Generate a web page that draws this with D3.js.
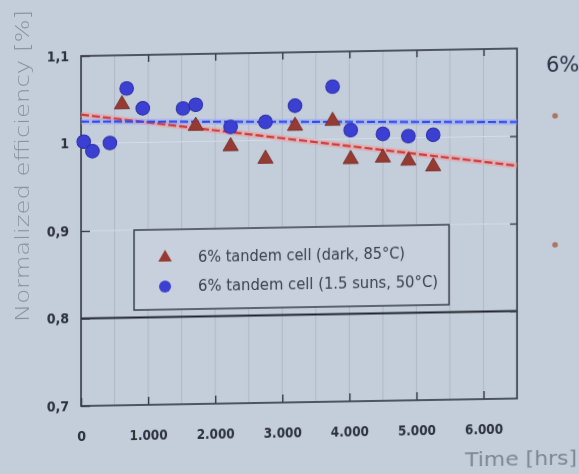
<!DOCTYPE html>
<html>
<head>
<meta charset="utf-8">
<script src="https://cdn.jsdelivr.net/npm/d3@7"></script>
<style>
  html, body { margin: 0; padding: 0; background: #c4cdda; }
  svg { display: block; }
</style>
</head>
<body>
<div id="vis"></div>
<script>
const TIEMPO_SOL = [40, 170, 430, 680, 920, 1520, 1710, 2230, 2750, 3190, 3750, 4020, 4500, 4880, 5250];
const EFIC_SOL = [1.002, 0.991, 1.000, 1.062, 1.039, 1.038, 1.042, 1.016, 1.021, 1.039, 1.060, 1.010, 1.005, 1.002, 1.003];

const TIEMPO_OSCURO = [610, 1710, 2230, 2750, 3190, 3750, 4020, 4500, 4880, 5250];
const EFIC_OSCURO = [1.045, 1.019, 0.995, 0.980, 1.017, 1.022, 0.978, 0.979, 0.975, 0.968];

// rectas de ajuste (extremos)
const TIEMPO_AJUSTE = [0, 6500];
const AJUSTE_SOL = [1.025, 1.016];
const AJUSTE_OSCURO = [1.033, 0.966];

const LIMITE = [0.8];

const TICKS_X = [0, 1000, 2000, 3000, 4000, 5000, 6000];
const TICKS_Y = [0.7, 0.8, 0.9, 1.0, 1.1];
const GRILLA_X = [500, 1000, 1500, 2000, 2500, 3000, 3500, 4000, 4500, 5000, 5500, 6000];

const LEYENDA = ["6% tandem cell (dark, 85°C)", "6% tandem cell (1.5 suns, 50°C)"];

const WIDTH = 579;
const HEIGHT = 474;
const FUENTE_NARROW = "'Liberation Sans Narrow', 'DejaVu Sans Condensed', 'Liberation Sans', sans-serif";

const SVG = d3.select("#vis").append("svg")
    .attr("width", WIDTH)
    .attr("height", HEIGHT);

SVG.append("rect").attr("width", WIDTH).attr("height", HEIGHT).attr("fill", "#c4cdda");

const defs = SVG.append("defs");
defs.append("filter").attr("id", "borroso")
    .attr("x", "-5%").attr("y", "-5%").attr("width", "110%").attr("height", "110%")
    .append("feGaussianBlur").attr("stdDeviation", 0.55);

// la foto esta tomada un poco chueca: el lado derecho queda mas arriba
const K = 0.0172;
const g = SVG.append("g")
    .attr("transform", `matrix(1,${-K},0,1,0,${K * 81})`)
    .attr("filter", "url(#borroso)");

const escalaX = d3.scaleLinear().domain([0, 6500]).range([81, 517]);
const escalaY = d3.scaleLinear().domain([0.7, 1.1]).range([406, 56]);

// grilla vertical
g.append("g").selectAll("line")
    .data(GRILLA_X)
    .join("line")
    .attr("x1", d => escalaX(d)).attr("x2", d => escalaX(d))
    .attr("y1", escalaY(1.1)).attr("y2", escalaY(0.7))
    .attr("stroke", "#aeb7c6")
    .attr("stroke-width", 0.9);

// grilla horizontal suave
g.append("g").selectAll("line")
    .data([0.9, 1.0])
    .join("line")
    .attr("x1", escalaX(0)).attr("x2", escalaX(6500))
    .attr("y1", d => escalaY(d)).attr("y2", d => escalaY(d))
    .attr("stroke", "#d3dbe6")
    .attr("stroke-width", 1);

// linea del 80%
g.append("g").selectAll("line")
    .data(LIMITE)
    .join("line")
    .attr("x1", escalaX(0)).attr("x2", escalaX(6500))
    .attr("y1", d => escalaY(d)).attr("y2", d => escalaY(d))
    .attr("stroke", "#1f252e")
    .attr("stroke-width", 2.2);

// ejes
const formatoX = d => d3.format(",")(d).replace(/,/g, ".");
const formatoY = d => d === 1 ? "1" : d3.format(".1f")(d).replace(".", ",");

const ejeX = g.append("g")
    .attr("transform", `translate(0,${escalaY(0.7)})`)
    .call(d3.axisBottom(escalaX).tickValues(TICKS_X).tickSize(-8).tickPadding(25).tickFormat(formatoX));
const ejeY = g.append("g")
    .attr("transform", `translate(${escalaX(0)},0)`)
    .call(d3.axisLeft(escalaY).tickValues(TICKS_Y).tickSize(-9).tickPadding(12).tickFormat(formatoY));
g.append("g")
    .attr("transform", `translate(0,${escalaY(1.1)})`)
    .call(d3.axisTop(escalaX).tickValues(TICKS_X.slice(1)).tickSize(-7).tickFormat(""));
g.append("g")
    .attr("transform", `translate(${escalaX(6500)},0)`)
    .call(d3.axisRight(escalaY).tickValues(TICKS_Y.slice(1, 4)).tickSize(-7).tickFormat(""));

g.selectAll(".domain").remove();
g.selectAll(".tick line").attr("stroke", "#333a46").attr("stroke-width", 1.4);
[ejeX, ejeY].forEach(eje => eje.selectAll("text")
    .attr("fill", "#2a303b")
    .attr("font-family", FUENTE_NARROW)
    .attr("font-weight", "bold")
    .attr("font-size", 14));
// las etiquetas del eje x son angostas en la foto
ejeX.selectAll("text")
    .filter(d => d > 0)
    .attr("textLength", 38)
    .attr("lengthAdjust", "spacingAndGlyphs");

// borde del grafico
g.append("rect")
    .attr("x", escalaX(0)).attr("y", escalaY(1.1))
    .attr("width", escalaX(6500) - escalaX(0))
    .attr("height", escalaY(0.7) - escalaY(1.1))
    .attr("fill", "none")
    .attr("stroke", "#3a404c")
    .attr("stroke-width", 1.7);

// rectas de ajuste: halo + linea segmentada
const linea = d3.line().x(d => escalaX(d[0])).y(d => escalaY(d[1]));
const ajustes = [
    { pts: d3.zip(TIEMPO_AJUSTE, AJUSTE_OSCURO), halo: "#ee9a9a", color: "#cf3a3a" },
    { pts: d3.zip(TIEMPO_AJUSTE, AJUSTE_SOL), halo: "#9aa6f2", color: "#2f4cf0" },
];
g.append("g").selectAll("path.halo")
    .data(ajustes)
    .join("path")
    .attr("class", "halo")
    .attr("d", d => linea(d.pts))
    .attr("stroke", d => d.halo)
    .attr("stroke-width", 6)
    .attr("stroke-opacity", 0.55)
    .attr("fill", "none");
g.append("g").selectAll("path.ajuste")
    .data(ajustes)
    .join("path")
    .attr("class", "ajuste")
    .attr("d", d => linea(d.pts))
    .attr("stroke", d => d.color)
    .attr("stroke-width", 2.2)
    .attr("stroke-dasharray", "8,3")
    .attr("fill", "none");

// triangulos (oscuro, 85 C)
const triangulo = d3.symbol().type(d3.symbolTriangle).size(100);
g.append("g").selectAll("path")
    .data(d3.zip(TIEMPO_OSCURO, EFIC_OSCURO))
    .join("path")
    .attr("d", triangulo)
    .attr("transform", d => `translate(${escalaX(d[0])},${escalaY(d[1]) + 1})`)
    .attr("fill", "#963a30")
    .attr("stroke", "#6e2a24")
    .attr("stroke-width", 0.8);

// circulos (1.5 soles, 50 C)
g.append("g").selectAll("circle")
    .data(d3.zip(TIEMPO_SOL, EFIC_SOL))
    .join("circle")
    .attr("cx", d => escalaX(d[0]))
    .attr("cy", d => escalaY(d[1]))
    .attr("r", 6.8)
    .attr("fill", "#3b40d2")
    .attr("stroke", "#2a2ea6")
    .attr("stroke-width", 1);

// leyenda
const leyenda = g.append("g");
leyenda.append("rect")
    .attr("x", 134).attr("y", 231)
    .attr("width", 315).attr("height", 80)
    .attr("fill", "#c7d0dc")
    .attr("stroke", "#3a404c")
    .attr("stroke-width", 1.5);
leyenda.append("path")
    .attr("d", d3.symbol().type(d3.symbolTriangle).size(80))
    .attr("transform", "translate(165,259)")
    .attr("fill", "#963a30");
leyenda.append("circle")
    .attr("cx", 165).attr("cy", 288).attr("r", 6)
    .attr("fill", "#3b40d2");
leyenda.selectAll("text")
    .data(LEYENDA)
    .join("text")
    .attr("x", 198)
    .attr("y", (d, i) => 264 + i * 29)
    .attr("textLength", (d, i) => i === 0 ? 207 : 240)
    .attr("lengthAdjust", "spacingAndGlyphs")
    .attr("font-family", FUENTE_NARROW)
    .attr("font-size", 15)
    .attr("fill", "#3a404c")
    .text(d => d);

// titulos de ejes
g.append("text")
    .attr("transform", "translate(29,165) rotate(-90)")
    .attr("text-anchor", "middle")
    .attr("textLength", 312)
    .attr("lengthAdjust", "spacingAndGlyphs")
    .attr("font-family", "'DejaVu Sans', sans-serif")
    .attr("font-weight", 300)
    .attr("font-size", 19)
    .attr("fill", "#8891a0")
    .text("Normalized efficiency [%]");

g.append("text")
    .attr("x", 465).attr("y", 473)
    .attr("textLength", 112)
    .attr("lengthAdjust", "spacingAndGlyphs")
    .attr("font-family", "'DejaVu Sans', sans-serif")
    .attr("font-size", 20)
    .attr("fill", "#7c8594")
    .text("Time [hrs]");

// texto de la diapositiva a la derecha
g.append("text")
    .attr("x", 546).attr("y", 80)
    .attr("font-family", "'DejaVu Sans', sans-serif")
    .attr("font-size", 21)
    .attr("fill", "#263042")
    .text("6%");
g.append("g").selectAll("circle")
    .data([0, 1])
    .join("circle")
    .attr("cx", 555)
    .attr("cy", (d, i) => i === 0 ? 124 : 253)
    .attr("r", 2.8)
    .attr("fill", "#a8765e");
</script>
</body>
</html>
